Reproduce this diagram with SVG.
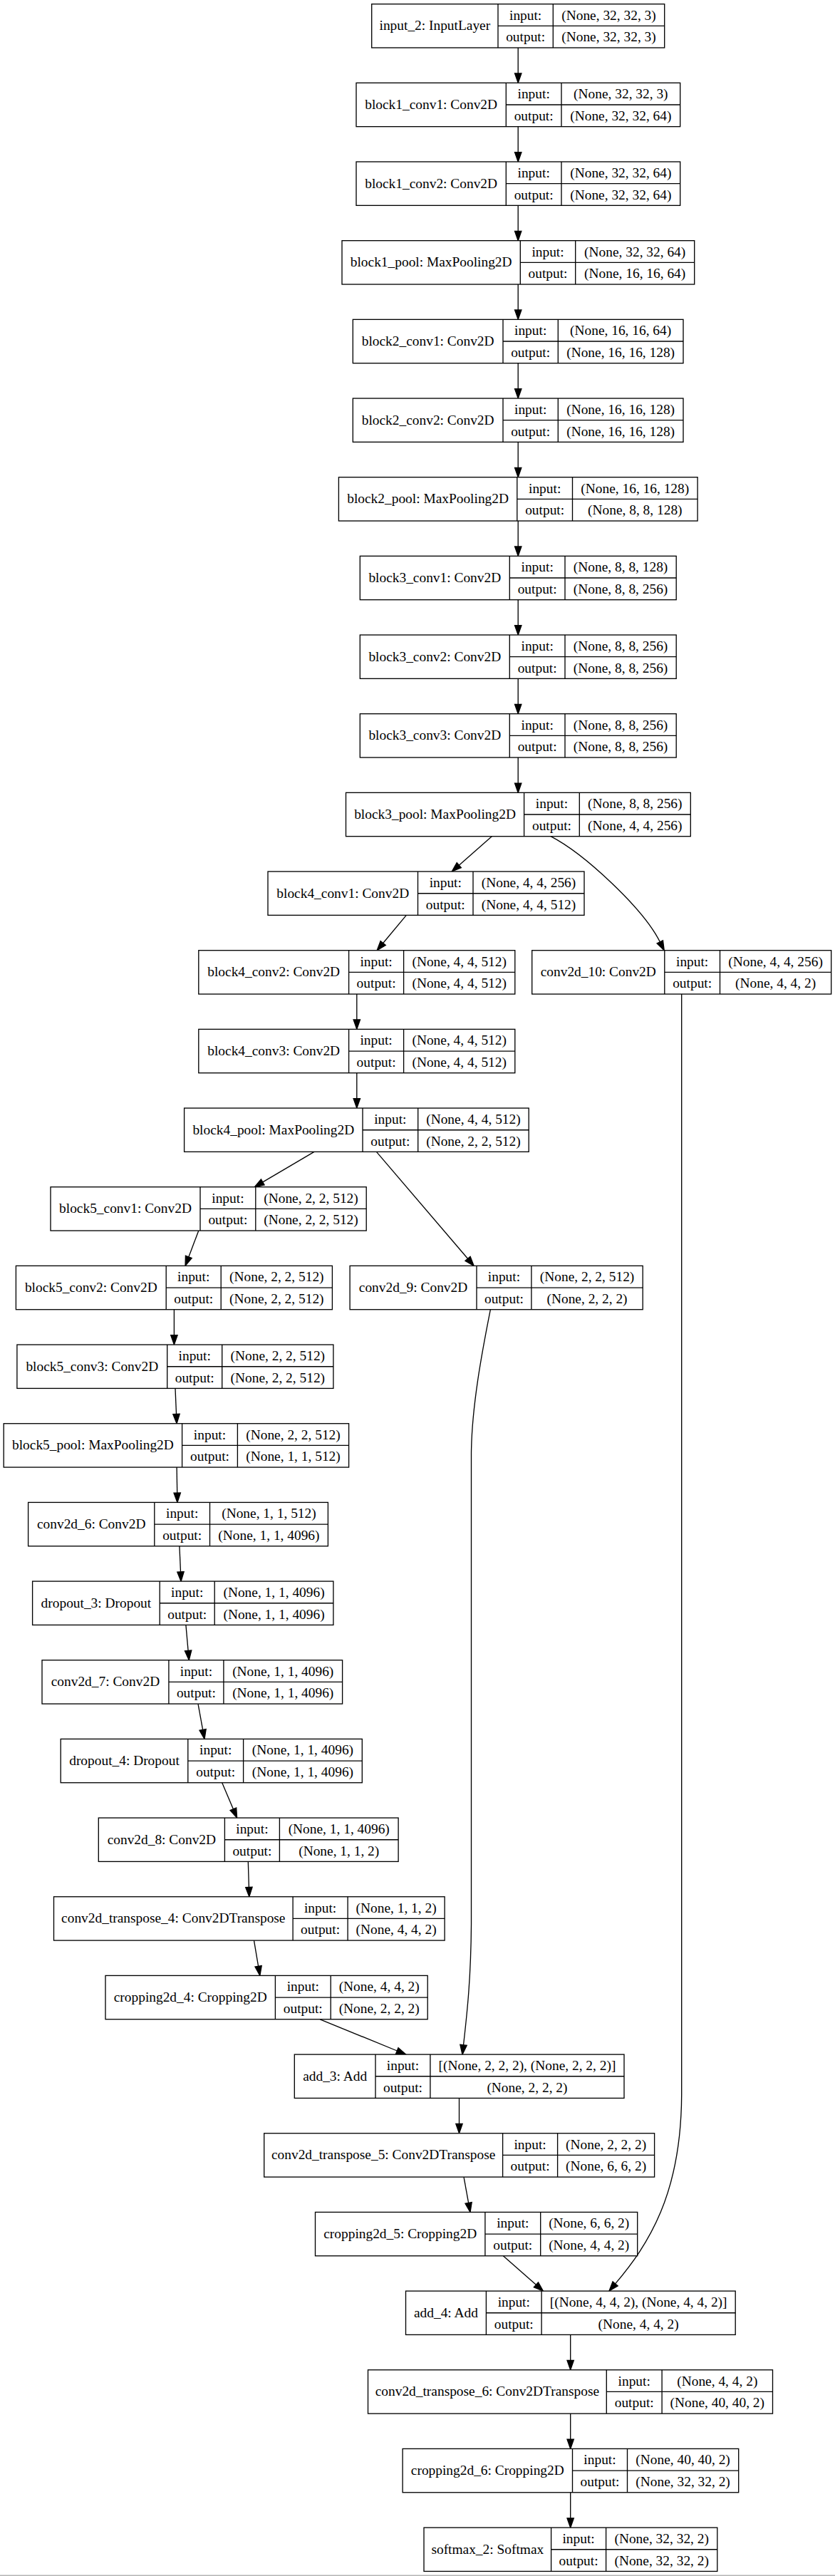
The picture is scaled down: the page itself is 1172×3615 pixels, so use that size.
<svg xmlns="http://www.w3.org/2000/svg" width="1172" height="3615" viewBox="0 0 1172 3615">
<style>
.n rect{fill:#fff;stroke:#000;stroke-width:1.33}
.n path{fill:none;stroke:#000;stroke-width:1.33}
.n text{font-family:"Liberation Serif","Times New Roman",serif;font-size:19.4px;text-anchor:middle;fill:#000}
.e{fill:none;stroke:#000;stroke-width:1.33;marker-end:url(#arr)}
</style>
<defs>
<marker id="arr" markerUnits="userSpaceOnUse" markerWidth="16" markerHeight="12" viewBox="0 -6 16 12" refX="0" refY="0" orient="auto" overflow="visible">
<path d="M0,-4.67 L13.33,0 L0,4.67 Z" fill="#000" stroke="#000" stroke-width="1.33"/>
</marker>
</defs>
<rect width="1172" height="3615" fill="#fff"/>
<line x1="0" y1="3614.3" x2="1172" y2="3614.3" stroke="#b4b4b4" stroke-width="1.4"/>

<g id="edges">
<path class="e" d="M727.2,67 V103.0"/>
<path class="e" d="M727.2,177.67 V213.68"/>
<path class="e" d="M727.2,288.34 V324.35"/>
<path class="e" d="M727.2,399.01 V435.02"/>
<path class="e" d="M727.2,509.68 V545.69"/>
<path class="e" d="M727.2,620.35 V656.36"/>
<path class="e" d="M727.2,731.02 V767.03"/>
<path class="e" d="M727.2,841.69 V877.7"/>
<path class="e" d="M727.2,952.36 V988.37"/>
<path class="e" d="M727.2,1063.03 V1099.04"/>
<path class="e" d="M690.3,1173.7 L644.3,1214.2"/>
<path class="e" d="M773,1173.7 C820,1198 903,1275 926.3,1321.8"/>
<path class="e" d="M570.3,1284.4 L537.7,1323.5"/>
<path class="e" d="M500.8,1395 V1431"/>
<path class="e" d="M500.8,1505.7 V1541.7"/>
<path class="e" d="M956.7,1395 V2940 C956,3080 910,3150 863.6,3204.9"/>
<path class="e" d="M441,1616.4 L368.8,1658.9"/>
<path class="e" d="M528.4,1616.4 L656.5,1766.3"/>
<path class="e" d="M278.8,1727.1 L264.8,1763.9"/>
<path class="e" d="M244.4,1837.7 V1873.7"/>
<path class="e" d="M246,1948.4 L247.5,1984.4"/>
<path class="e" d="M248.1,2059.1 L248.7,2095.1"/>
<path class="e" d="M251.9,2169.7 L253.5,2205.8"/>
<path class="e" d="M260.9,2280.4 L264.1,2316.4"/>
<path class="e" d="M278,2391.1 L284.6,2427.3"/>
<path class="e" d="M311.7,2501.7 L327.4,2538.8"/>
<path class="e" d="M348.3,2612.4 L349.4,2648.4"/>
<path class="e" d="M356.5,2723.1 L362.6,2759.3"/>
<path class="e" d="M449.2,2833.8 L557.3,2878.0"/>
<path class="e" d="M688.4,1837.7 C676,1900 662,1975 661.5,2040 V2700 C661,2780 655,2830 650.5,2869.9"/>
<path class="e" d="M644.5,2944.4 V2980.4"/>
<path class="e" d="M651,3055.1 L657.6,3091.3"/>
<path class="e" d="M706.3,3165.8 L752.4,3206.3"/>
<path class="e" d="M800.7,3276.4 V3312.4"/>
<path class="e" d="M800.7,3387.1 V3423.1"/>
<path class="e" d="M800.7,3497.8 V3533.8"/>
</g>

<g id="input_2" class="n" transform="translate(521.7,5.67)"><rect width="411" height="61.33"/><path d="M177.3,0V61.33M254.6,0V61.33M177.3,30.67H411"/><text x="88.65" y="36.5">input_2: InputLayer</text><text x="215.95" y="21.9">input:</text><text x="215.95" y="52.6">output:</text><text x="332.8" y="21.9">(None, 32, 32, 3)</text><text x="332.8" y="52.6">(None, 32, 32, 3)</text></g>

<g id="block1_conv1" class="n" transform="translate(500,116.34)"><rect width="454.7" height="61.33"/><path d="M210.3,0V61.33M288,0V61.33M210.3,30.67H454.7"/><text x="105.15" y="36.5">block1_conv1: Conv2D</text><text x="249.15" y="21.9">input:</text><text x="249.15" y="52.6">output:</text><text x="371.35" y="21.9">(None, 32, 32, 3)</text><text x="371.35" y="52.6">(None, 32, 32, 64)</text></g>

<g id="block1_conv2" class="n" transform="translate(500,227.01)"><rect width="454.7" height="61.33"/><path d="M210.3,0V61.33M288,0V61.33M210.3,30.67H454.7"/><text x="105.15" y="36.5">block1_conv2: Conv2D</text><text x="249.15" y="21.9">input:</text><text x="249.15" y="52.6">output:</text><text x="371.35" y="21.9">(None, 32, 32, 64)</text><text x="371.35" y="52.6">(None, 32, 32, 64)</text></g>

<g id="block1_pool" class="n" transform="translate(480,337.68)"><rect width="494.7" height="61.33"/><path d="M250.3,0V61.33M327.7,0V61.33M250.3,30.67H494.7"/><text x="125.15" y="36.5">block1_pool: MaxPooling2D</text><text x="289" y="21.9">input:</text><text x="289" y="52.6">output:</text><text x="411.2" y="21.9">(None, 32, 32, 64)</text><text x="411.2" y="52.6">(None, 16, 16, 64)</text></g>

<g id="block2_conv1" class="n" transform="translate(495.3,448.35)"><rect width="463.7" height="61.33"/><path d="M210.7,0V61.33M288,0V61.33M210.7,30.67H463.7"/><text x="105.35" y="36.5">block2_conv1: Conv2D</text><text x="249.35" y="21.9">input:</text><text x="249.35" y="52.6">output:</text><text x="375.85" y="21.9">(None, 16, 16, 64)</text><text x="375.85" y="52.6">(None, 16, 16, 128)</text></g>

<g id="block2_conv2" class="n" transform="translate(495.3,559.02)"><rect width="463.7" height="61.33"/><path d="M210.7,0V61.33M288,0V61.33M210.7,30.67H463.7"/><text x="105.35" y="36.5">block2_conv2: Conv2D</text><text x="249.35" y="21.9">input:</text><text x="249.35" y="52.6">output:</text><text x="375.85" y="21.9">(None, 16, 16, 128)</text><text x="375.85" y="52.6">(None, 16, 16, 128)</text></g>

<g id="block2_pool" class="n" transform="translate(475.4,669.69)"><rect width="503.7" height="61.33"/><path d="M250.4,0V61.33M328.1,0V61.33M250.4,30.67H503.7"/><text x="125.2" y="36.5">block2_pool: MaxPooling2D</text><text x="289.25" y="21.9">input:</text><text x="289.25" y="52.6">output:</text><text x="415.9" y="21.9">(None, 16, 16, 128)</text><text x="415.9" y="52.6">(None, 8, 8, 128)</text></g>

<g id="block3_conv1" class="n" transform="translate(505.3,780.36)"><rect width="443.9" height="61.33"/><path d="M210,0V61.33M287.7,0V61.33M210,30.67H443.9"/><text x="105" y="36.5">block3_conv1: Conv2D</text><text x="248.85" y="21.9">input:</text><text x="248.85" y="52.6">output:</text><text x="365.8" y="21.9">(None, 8, 8, 128)</text><text x="365.8" y="52.6">(None, 8, 8, 256)</text></g>

<g id="block3_conv2" class="n" transform="translate(505.3,891.03)"><rect width="443.9" height="61.33"/><path d="M210,0V61.33M287.7,0V61.33M210,30.67H443.9"/><text x="105" y="36.5">block3_conv2: Conv2D</text><text x="248.85" y="21.9">input:</text><text x="248.85" y="52.6">output:</text><text x="365.8" y="21.9">(None, 8, 8, 256)</text><text x="365.8" y="52.6">(None, 8, 8, 256)</text></g>

<g id="block3_conv3" class="n" transform="translate(505.3,1001.7)"><rect width="443.9" height="61.33"/><path d="M210,0V61.33M287.7,0V61.33M210,30.67H443.9"/><text x="105" y="36.5">block3_conv3: Conv2D</text><text x="248.85" y="21.9">input:</text><text x="248.85" y="52.6">output:</text><text x="365.8" y="21.9">(None, 8, 8, 256)</text><text x="365.8" y="52.6">(None, 8, 8, 256)</text></g>

<g id="block3_pool" class="n" transform="translate(485.5,1112.37)"><rect width="483.8" height="61.33"/><path d="M250.1,0V61.33M327.8,0V61.33M250.1,30.67H483.8"/><text x="125.05" y="36.5">block3_pool: MaxPooling2D</text><text x="288.95" y="21.9">input:</text><text x="288.95" y="52.6">output:</text><text x="405.8" y="21.9">(None, 8, 8, 256)</text><text x="405.8" y="52.6">(None, 4, 4, 256)</text></g>

<g id="block4_conv1" class="n" transform="translate(376,1223.04)"><rect width="444" height="61.33"/><path d="M210.5,0V61.33M288,0V61.33M210.5,30.67H444"/><text x="105.25" y="36.5">block4_conv1: Conv2D</text><text x="249.25" y="21.9">input:</text><text x="249.25" y="52.6">output:</text><text x="366" y="21.9">(None, 4, 4, 256)</text><text x="366" y="52.6">(None, 4, 4, 512)</text></g>

<g id="block4_conv2" class="n" transform="translate(278.8,1333.71)"><rect width="444" height="61.33"/><path d="M210.8,0V61.33M287.8,0V61.33M210.8,30.67H444"/><text x="105.4" y="36.5">block4_conv2: Conv2D</text><text x="249.3" y="21.9">input:</text><text x="249.3" y="52.6">output:</text><text x="365.9" y="21.9">(None, 4, 4, 512)</text><text x="365.9" y="52.6">(None, 4, 4, 512)</text></g>

<g id="conv2d_10" class="n" transform="translate(746.7,1333.71)"><rect width="420" height="61.33"/><path d="M186.1,0V61.33M263.8,0V61.33M186.1,30.67H420"/><text x="93.05" y="36.5">conv2d_10: Conv2D</text><text x="224.95" y="21.9">input:</text><text x="224.95" y="52.6">output:</text><text x="341.9" y="21.9">(None, 4, 4, 256)</text><text x="341.9" y="52.6">(None, 4, 4, 2)</text></g>

<g id="block4_conv3" class="n" transform="translate(278.8,1444.38)"><rect width="444" height="61.33"/><path d="M210.8,0V61.33M287.8,0V61.33M210.8,30.67H444"/><text x="105.4" y="36.5">block4_conv3: Conv2D</text><text x="249.3" y="21.9">input:</text><text x="249.3" y="52.6">output:</text><text x="365.9" y="21.9">(None, 4, 4, 512)</text><text x="365.9" y="52.6">(None, 4, 4, 512)</text></g>

<g id="block4_pool" class="n" transform="translate(258.6,1555.05)"><rect width="483.6" height="61.33"/><path d="M250.4,0V61.33M328.1,0V61.33M250.4,30.67H483.6"/><text x="125.2" y="36.5">block4_pool: MaxPooling2D</text><text x="289.25" y="21.9">input:</text><text x="289.25" y="52.6">output:</text><text x="405.85" y="21.9">(None, 4, 4, 512)</text><text x="405.85" y="52.6">(None, 2, 2, 512)</text></g>

<g id="block5_conv1" class="n" transform="translate(71,1665.72)"><rect width="443.2" height="61.33"/><path d="M210,0V61.33M287.8,0V61.33M210,30.67H443.2"/><text x="105" y="36.5">block5_conv1: Conv2D</text><text x="248.9" y="21.9">input:</text><text x="248.9" y="52.6">output:</text><text x="365.5" y="21.9">(None, 2, 2, 512)</text><text x="365.5" y="52.6">(None, 2, 2, 512)</text></g>

<g id="block5_conv2" class="n" transform="translate(22.4,1776.39)"><rect width="444" height="61.33"/><path d="M210.8,0V61.33M287.8,0V61.33M210.8,30.67H444"/><text x="105.4" y="36.5">block5_conv2: Conv2D</text><text x="249.3" y="21.9">input:</text><text x="249.3" y="52.6">output:</text><text x="365.9" y="21.9">(None, 2, 2, 512)</text><text x="365.9" y="52.6">(None, 2, 2, 512)</text></g>

<g id="conv2d_9" class="n" transform="translate(491.1,1776.39)"><rect width="411.1" height="61.33"/><path d="M177.9,0V61.33M254.8,0V61.33M177.9,30.67H411.1"/><text x="88.95" y="36.5">conv2d_9: Conv2D</text><text x="216.35" y="21.9">input:</text><text x="216.35" y="52.6">output:</text><text x="332.95" y="21.9">(None, 2, 2, 512)</text><text x="332.95" y="52.6">(None, 2, 2, 2)</text></g>

<g id="block5_conv3" class="n" transform="translate(23.9,1887.06)"><rect width="444" height="61.33"/><path d="M210.8,0V61.33M287.8,0V61.33M210.8,30.67H444"/><text x="105.4" y="36.5">block5_conv3: Conv2D</text><text x="249.3" y="21.9">input:</text><text x="249.3" y="52.6">output:</text><text x="365.9" y="21.9">(None, 2, 2, 512)</text><text x="365.9" y="52.6">(None, 2, 2, 512)</text></g>

<g id="block5_pool" class="n" transform="translate(5.2,1997.73)"><rect width="484.4" height="61.33"/><path d="M250.4,0V61.33M328.2,0V61.33M250.4,30.67H484.4"/><text x="125.2" y="36.5">block5_pool: MaxPooling2D</text><text x="289.3" y="21.9">input:</text><text x="289.3" y="52.6">output:</text><text x="406.3" y="21.9">(None, 2, 2, 512)</text><text x="406.3" y="52.6">(None, 1, 1, 512)</text></g>

<g id="conv2d_6" class="n" transform="translate(39.6,2108.4)"><rect width="420.8" height="61.33"/><path d="M177.2,0V61.33M254.9,0V61.33M177.2,30.67H420.8"/><text x="88.6" y="36.5">conv2d_6: Conv2D</text><text x="216.05" y="21.9">input:</text><text x="216.05" y="52.6">output:</text><text x="337.85" y="21.9">(None, 1, 1, 512)</text><text x="337.85" y="52.6">(None, 1, 1, 4096)</text></g>

<g id="dropout_3" class="n" transform="translate(45.6,2219.07)"><rect width="422.3" height="61.33"/><path d="M178.6,0V61.33M255.6,0V61.33M178.6,30.67H422.3"/><text x="89.3" y="36.5">dropout_3: Dropout</text><text x="217.1" y="21.9">input:</text><text x="217.1" y="52.6">output:</text><text x="338.95" y="21.9">(None, 1, 1, 4096)</text><text x="338.95" y="52.6">(None, 1, 1, 4096)</text></g>

<g id="conv2d_7" class="n" transform="translate(59,2329.74)"><rect width="421.6" height="61.33"/><path d="M177.9,0V61.33M254.9,0V61.33M177.9,30.67H421.6"/><text x="88.95" y="36.5">conv2d_7: Conv2D</text><text x="216.4" y="21.9">input:</text><text x="216.4" y="52.6">output:</text><text x="338.25" y="21.9">(None, 1, 1, 4096)</text><text x="338.25" y="52.6">(None, 1, 1, 4096)</text></g>

<g id="dropout_4" class="n" transform="translate(85.2,2440.41)"><rect width="423.1" height="61.33"/><path d="M178.6,0V61.33M256.4,0V61.33M178.6,30.67H423.1"/><text x="89.3" y="36.5">dropout_4: Dropout</text><text x="217.5" y="21.9">input:</text><text x="217.5" y="52.6">output:</text><text x="339.75" y="21.9">(None, 1, 1, 4096)</text><text x="339.75" y="52.6">(None, 1, 1, 4096)</text></g>

<g id="conv2d_8" class="n" transform="translate(138.3,2551.08)"><rect width="420.8" height="61.33"/><path d="M177.1,0V61.33M254.1,0V61.33M177.1,30.67H420.8"/><text x="88.55" y="36.5">conv2d_8: Conv2D</text><text x="215.6" y="21.9">input:</text><text x="215.6" y="52.6">output:</text><text x="337.45" y="21.9">(None, 1, 1, 4096)</text><text x="337.45" y="52.6">(None, 1, 1, 2)</text></g>

<g id="conv2d_transpose_4" class="n" transform="translate(75.5,2661.75)"><rect width="548.6" height="61.33"/><path d="M335.6,0V61.33M412.6,0V61.33M335.6,30.67H548.6"/><text x="167.8" y="36.5">conv2d_transpose_4: Conv2DTranspose</text><text x="374.1" y="21.9">input:</text><text x="374.1" y="52.6">output:</text><text x="480.6" y="21.9">(None, 1, 1, 2)</text><text x="480.6" y="52.6">(None, 4, 4, 2)</text></g>

<g id="cropping2d_4" class="n" transform="translate(148,2772.42)"><rect width="452.2" height="61.33"/><path d="M238.4,0V61.33M316.2,0V61.33M238.4,30.67H452.2"/><text x="119.2" y="36.5">cropping2d_4: Cropping2D</text><text x="277.3" y="21.9">input:</text><text x="277.3" y="52.6">output:</text><text x="384.2" y="21.9">(None, 4, 4, 2)</text><text x="384.2" y="52.6">(None, 2, 2, 2)</text></g>

<g id="add_3" class="n" transform="translate(413.3,2883.09)"><rect width="462.7" height="61.33"/><path d="M113.7,0V61.33M190.6,0V61.33M113.7,30.67H462.7"/><text x="56.85" y="36.5">add_3: Add</text><text x="152.15" y="21.9">input:</text><text x="152.15" y="52.6">output:</text><text x="326.65" y="21.9">[(None, 2, 2, 2), (None, 2, 2, 2)]</text><text x="326.65" y="52.6">(None, 2, 2, 2)</text></g>

<g id="conv2d_transpose_5" class="n" transform="translate(370.7,2993.76)"><rect width="547.9" height="61.33"/><path d="M334.9,0V61.33M411.9,0V61.33M334.9,30.67H547.9"/><text x="167.45" y="36.5">conv2d_transpose_5: Conv2DTranspose</text><text x="373.4" y="21.9">input:</text><text x="373.4" y="52.6">output:</text><text x="479.9" y="21.9">(None, 2, 2, 2)</text><text x="479.9" y="52.6">(None, 6, 6, 2)</text></g>

<g id="cropping2d_5" class="n" transform="translate(442.5,3104.43)"><rect width="452.2" height="61.33"/><path d="M238.4,0V61.33M316.2,0V61.33M238.4,30.67H452.2"/><text x="119.2" y="36.5">cropping2d_5: Cropping2D</text><text x="277.3" y="21.9">input:</text><text x="277.3" y="52.6">output:</text><text x="384.2" y="21.9">(None, 6, 6, 2)</text><text x="384.2" y="52.6">(None, 4, 4, 2)</text></g>

<g id="add_4" class="n" transform="translate(569.5,3215.1)"><rect width="462.7" height="61.33"/><path d="M112.9,0V61.33M190.6,0V61.33M112.9,30.67H462.7"/><text x="56.45" y="36.5">add_4: Add</text><text x="151.75" y="21.9">input:</text><text x="151.75" y="52.6">output:</text><text x="326.65" y="21.9">[(None, 4, 4, 2), (None, 4, 4, 2)]</text><text x="326.65" y="52.6">(None, 4, 4, 2)</text></g>

<g id="conv2d_transpose_6" class="n" transform="translate(516.5,3325.77)"><rect width="568" height="61.33"/><path d="M334.8,0V61.33M412.6,0V61.33M334.8,30.67H568"/><text x="167.4" y="36.5">conv2d_transpose_6: Conv2DTranspose</text><text x="373.7" y="21.9">input:</text><text x="373.7" y="52.6">output:</text><text x="490.3" y="21.9">(None, 4, 4, 2)</text><text x="490.3" y="52.6">(None, 40, 40, 2)</text></g>

<g id="cropping2d_6" class="n" transform="translate(565.1,3436.44)"><rect width="471.6" height="61.33"/><path d="M238.4,0V61.33M315.4,0V61.33M238.4,30.67H471.6"/><text x="119.2" y="36.5">cropping2d_6: Cropping2D</text><text x="276.9" y="21.9">input:</text><text x="276.9" y="52.6">output:</text><text x="393.5" y="21.9">(None, 40, 40, 2)</text><text x="393.5" y="52.6">(None, 32, 32, 2)</text></g>

<g id="softmax_2" class="n" transform="translate(595,3547.11)"><rect width="411.8" height="61.33"/><path d="M178.6,0V61.33M255.6,0V61.33M178.6,30.67H411.8"/><text x="89.3" y="36.5">softmax_2: Softmax</text><text x="217.1" y="21.9">input:</text><text x="217.1" y="52.6">output:</text><text x="333.7" y="21.9">(None, 32, 32, 2)</text><text x="333.7" y="52.6">(None, 32, 32, 2)</text></g>
</svg>
